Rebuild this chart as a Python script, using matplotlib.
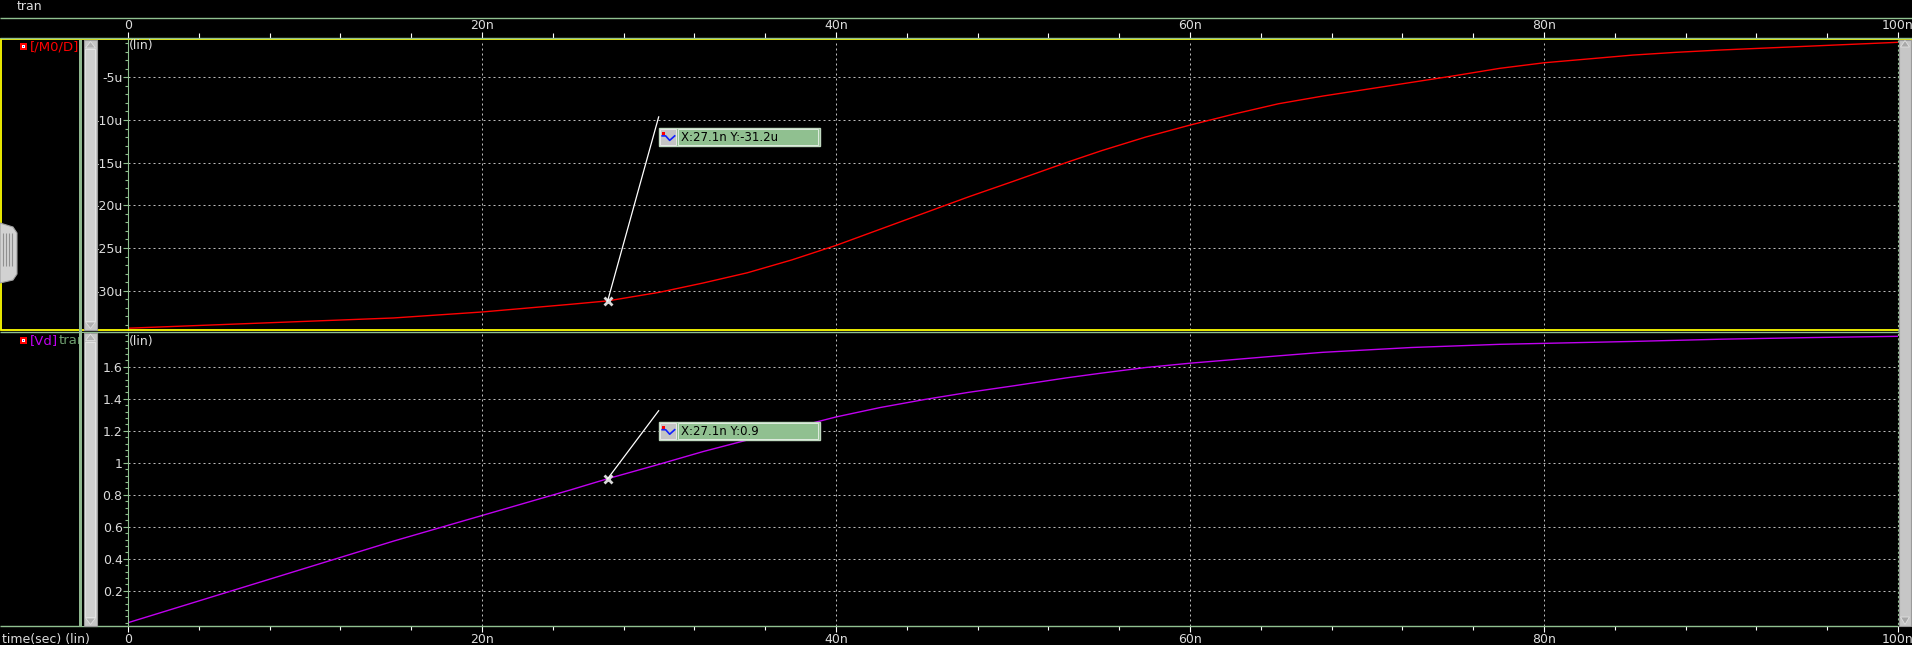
import matplotlib
matplotlib.use("Agg")
import matplotlib.pyplot as plt
from matplotlib.ticker import FixedLocator, MultipleLocator, FuncFormatter
from matplotlib.patches import Rectangle, Polygon

W, H = 1912, 645

# transient sweep, time in ns
t_ns = [0, 5, 10, 15, 20, 25, 27.1, 30, 32.5, 35, 37.5, 40, 42.5, 45, 47.5, 50,
        53, 55, 57.5, 60, 62.5, 65, 67.5, 70, 72.5, 75, 77.5, 80, 85, 87.5, 90, 95, 100]
# drain current of M0 in uA
id_u = [-34.4, -34.0, -33.6, -33.2, -32.5, -31.6, -31.2, -30.2, -29.1, -27.9, -26.4,
        -24.7, -22.8, -20.9, -19.0, -17.2, -15.0, -13.6, -12.0, -10.6, -9.3, -8.1,
        -7.2, -6.4, -5.6, -4.8, -3.95, -3.3, -2.4, -2.07, -1.8, -1.35, -0.9]
# drain voltage in V
vd = [0.0, 0.17, 0.34, 0.51, 0.67, 0.83, 0.90, 0.99, 1.07, 1.142, 1.215, 1.286,
      1.345, 1.395, 1.44, 1.48, 1.53, 1.56, 1.595, 1.622, 1.645, 1.668, 1.69, 1.705,
      1.72, 1.73, 1.74, 1.746, 1.758, 1.765, 1.772, 1.782, 1.79]

id_ticks = [-5, -10, -15, -20, -25, -30]
vd_ticks = [0.2, 0.4, 0.6, 0.8, 1.0, 1.2, 1.4, 1.6]
time_ticks = [0, 20, 40, 60, 80, 100]
cursor_t = 27.1
cursor_id = -31.2
cursor_vd = 0.9

GRN = "#90c090"
TXT = "#dcdcdc"
GRID = "#bcbcbc"
GRID_LS = (0, (2, 3))
RED = "#ff0000"
MAG = "#c000f0"


def px_axes(fig, x0, y0, x1, y1, **kw):
    return fig.add_axes([x0 / W, 1 - y1 / H, (x1 - x0) / W, (y1 - y0) / H], **kw)


def time_label(v, pos=None):
    return "0" if v == 0 else f"{v:g}n"


def style_panel(ax, ylim, ticks, minor, fmt):
    ax.set_facecolor("black")
    ax.set_xlim(0, 100)
    ax.set_ylim(*ylim)
    for s in ax.spines.values():
        s.set_visible(False)
    ax.spines["left"].set_visible(True)
    ax.spines["left"].set_color(GRN)
    ax.yaxis.set_major_locator(FixedLocator(ticks))
    ax.yaxis.set_minor_locator(MultipleLocator(minor))
    ax.yaxis.set_major_formatter(FuncFormatter(fmt))
    ax.tick_params(axis="y", which="major", direction="out", length=3.6, width=0.8,
                   color=GRN, labelcolor=TXT, labelsize=9, pad=0.3)
    ax.tick_params(axis="y", which="minor", direction="out", length=2.3, width=0.8,
                   color=GRN)
    ax.set_xticks(time_ticks[1:-1])
    ax.tick_params(axis="x", which="both", length=0, labelbottom=False)
    ax.grid(True, which="major", color=GRID, linestyle=GRID_LS, linewidth=0.72)


fig = plt.figure(figsize=(W / 100, H / 100), dpi=100, facecolor="black")

ax1 = px_axes(fig, 128, 40, 1898, 330)
style_panel(ax1, (-34.61, -0.63), id_ticks, 1, lambda v, p: f"{v:g}u")
ax1.plot(t_ns, id_u, color=RED, lw=1.0)

ax2 = px_axes(fig, 128, 332, 1898, 626)
style_panel(ax2, (-0.0206, 1.817), vd_ticks, 0.04, lambda v, p: f"{v:g}")
ax2.plot(t_ns, vd, color=MAG, lw=1.0)
ax2.set_xticks(time_ticks)
ax2.set_xticklabels([time_label(v) for v in time_ticks])
ax2.xaxis.set_minor_locator(MultipleLocator(4))
ax2.tick_params(axis="x", which="major", direction="out", length=4.3, width=0.8,
                color="white", labelcolor=TXT, labelsize=9, pad=0.6, labelbottom=True)
ax2.tick_params(axis="x", which="minor", direction="out", length=3.0, width=0.8,
                color="white")
ax2.grid(False, axis="x")
for v in time_ticks[1:-1]:
    ax2.axvline(v, color=GRID, linestyle=GRID_LS, linewidth=0.72)

# top time ruler
rax = px_axes(fig, 128, 18, 1898, 37.7)
rax.set_facecolor("none")
rax.set_xlim(0, 100)
rax.set_ylim(0, 1)
for s in rax.spines.values():
    s.set_visible(False)
rax.set_xticks(time_ticks)
rax.xaxis.set_minor_locator(MultipleLocator(4))
rax.set_yticks([])
rax.tick_params(axis="x", which="major", direction="in", length=4.3, width=0.8,
                color="white", labelbottom=False)
rax.tick_params(axis="x", which="minor", direction="in", length=3.4, width=0.8,
                color="white")
for v in time_ticks:
    rax.text(v, 0.6, time_label(v), transform=rax.get_xaxis_transform(),
             ha="center", va="center", color=TXT, fontsize=9)

# window decorations in pixel coordinates
ui = fig.add_axes([0, 0, 1, 1])
ui.set_xlim(0, W)
ui.set_ylim(H, 0)
ui.axis("off")
ui.set_zorder(5)

ui.text(17, 6, "tran", color=TXT, fontsize=9, va="center")
ui.hlines([18, 37.7, 332.3], 0, W, color=GRN, lw=1)
ui.hlines(626, 0, 1898, color=GRN, lw=1)
ui.add_patch(Rectangle((1.5, 39), 1909.5, 291, fill=False, ec="#ffff00", lw=1.3))

# trace labels
for y, name, col in [(46.5, "[/M0/D]", RED), (340.5, "[Vd]", MAG)]:
    ui.add_patch(Rectangle((20, y - 3.5), 7, 7, fc=RED, ec="none"))
    ui.add_patch(Rectangle((21.6, y - 1.9), 3.8, 3.8, fc="white", ec="none"))
    ui.add_patch(Rectangle((22.6, y - 0.9), 1.8, 1.8, fc="#2030ff", ec="none"))
    ui.text(30, y, name, color=col, fontsize=9.5, va="center")
ui.text(59, 340.5, "tran", color="#70a070", fontsize=9.5, va="center", zorder=1)
ui.add_patch(Rectangle((82, 332.5), 2.5, 293, fc="black", ec="none", zorder=2))
ui.text(129, 46, "(lin)", color=TXT, fontsize=9, va="center")
ui.text(129, 341, "(lin)", color=TXT, fontsize=9, va="center")
ui.text(2, 640, "time(sec) (lin)", color=TXT, fontsize=9, va="center")

# left scrollbars
ui.add_patch(Rectangle((79, 39.5), 3.5, 587, fc="#8fb88f", ec="none", zorder=3))
for y0, y1 in [(40, 330), (332.5, 626)]:
    ui.add_patch(Rectangle((84, y0), 13, y1 - y0, fc="#c6c6c6", ec="#9a9a9a", lw=0.8, zorder=3))
    ui.add_patch(Rectangle((85.5, y0 + 9), 10, y1 - y0 - 18, fc="#d0d0d0", ec="#e8e8e8", lw=0.6, zorder=3))
    ui.add_patch(Polygon([(85.5, y0 + 8), (90.5, y0 + 1.5), (95.5, y0 + 8)],
                         fc="#b0b0b0", ec="#e0e0e0", lw=0.6, zorder=4))
    ui.add_patch(Polygon([(85.5, y1 - 8), (90.5, y1 - 1.5), (95.5, y1 - 8)],
                         fc="#b0b0b0", ec="#e0e0e0", lw=0.6, zorder=4))

# right scrollbar
ui.add_patch(Rectangle((1899, 39.5), 12.5, 586.5, fc="#c6c6c6", ec="#9a9a9a", lw=0.8, zorder=3))
ui.add_patch(Polygon([(1900.5, 47), (1905, 40.5), (1909.5, 47)], fc="#a8a8a8",
                     ec="#e0e0e0", lw=0.6, zorder=4))
ui.add_patch(Polygon([(1900.5, 617), (1905, 624.5), (1909.5, 617)], fc="#a8a8a8",
                     ec="#e0e0e0", lw=0.6, zorder=4))
ui.vlines(1898, 40, 626, color=GRN, lw=0.8, linestyles=(0, (2, 2)))

# left tab
ui.add_patch(Polygon([(0, 223), (13, 227), (17, 233), (17, 274), (13, 280), (0, 283)],
                     fc="#d2d2d2", ec="#a0a0a0", lw=0.8))
ui.vlines([3.5, 6.5, 9.5, 12.5], 233, 266, color="#909090", lw=0.8)


def cursor(ax, t, v, text, dy):
    ax.plot([t], [v], marker="x", color="#d8d8d8", ms=6, mew=2, zorder=6, clip_on=False)
    dx, dy_disp = ax.transData.transform((t, v))
    x0, y0 = dx, H - dy_disp
    x1, y1 = x0 + 51, y0 - dy
    ui.plot([x0, x1], [y0, y1], color="white", lw=0.9)
    bx, by = x1, y1 + 11
    ui.add_patch(Rectangle((bx, by), 161, 18.3, fc="#90c090", ec="#c0d8c0", lw=1))
    ui.add_patch(Rectangle((bx + 1.5, by + 1.5), 16, 15.3, fc="#c4c4c4", ec="#e8e8e8", lw=0.7))
    ui.add_patch(Rectangle((bx + 19.5, by + 1.5), 139.5, 15.3, fc="none", ec="#e0ece0", lw=0.7))
    ui.plot([bx + 3.5, bx + 7, bx + 11, bx + 16], [by + 8, by + 8, by + 12.5, by + 8],
            color="#1020ff", lw=1.2)
    ui.add_patch(Rectangle((bx + 3.5, by + 4.5), 3, 3, fc=RED, ec="none"))
    ui.text(bx + 22, by + 9.5, text, color="black", fontsize=8.5, va="center")


cursor(ax1, cursor_t, cursor_id, f"X:{cursor_t:g}n Y:{cursor_id:g}u", 184)
cursor(ax2, cursor_t, cursor_vd, f"X:{cursor_t:g}n Y:{cursor_vd:g}", 68)

fig.savefig("out.png", dpi=100, facecolor="black")
